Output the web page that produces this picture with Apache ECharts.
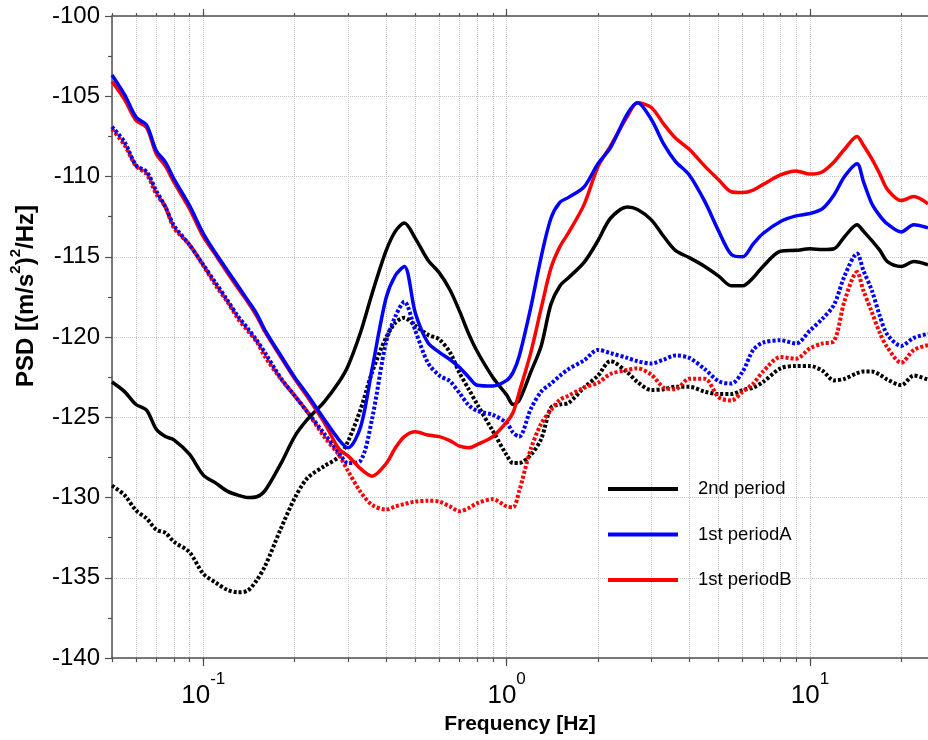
<!DOCTYPE html>
<html><head><meta charset="utf-8">
<script src="https://cdn.jsdelivr.net/npm/echarts@6/dist/echarts.min.js"></script>
<style>html,body{margin:0;padding:0;background:#fff}#c{width:928px;height:740px}</style>
</head><body><div id="c"></div>
<script>
// Frequency samples [Hz]
const freqHz = [0.05,0.055,0.06,0.065,0.07,0.075,0.08,0.09,0.1,0.11,0.12,0.13,0.14,0.15,0.16,0.18,0.2,0.22,0.25,0.28,0.3,0.33,0.36,0.4,0.43,0.46,0.5,0.55,0.6,0.65,0.7,0.75,0.8,0.9,1.0,1.05,1.1,1.2,1.3,1.4,1.5,1.6,1.8,2.0,2.2,2.5,2.7,3.0,3.3,3.6,4.0,4.5,5.0,5.5,6.0,6.5,7,8,9,10,11,12,13,14.3,15,16,17,18,20,22,24.5];

// PSD values [dB]
const secondPeriod = [-122.8,-123.4,-124.2,-124.55,-125.75,-126.2,-126.4,-127.3,-128.6,-129.1,
  -129.6,-129.85,-130.0,-129.95,-129.55,-127.9,-126.2,-125.15,-124.05,-122.8,
  -121.8,-119.7,-117.3,-114.65,-113.4,-112.9,-113.85,-115.2,-116.0,-117.05,
  -118.4,-119.8,-120.9,-122.5,-123.6,-124.2,-123.95,-122.2,-120.55,-117.95,
  -116.8,-116.3,-115.35,-114.0,-112.6,-111.9,-112.05,-112.7,-113.75,-114.6,
  -115.05,-115.6,-116.2,-116.8,-116.8,-116.3,-115.6,-114.65,-114.6,-114.5,
  -114.55,-114.5,-113.75,-113.0,-113.4,-114.0,-114.6,-115.3,-115.6,-115.3,-115.5];
const firstPeriodA = [-103.67,-104.9,-106.3,-106.8,-108.4,-109.1,-110.15,-111.8,-113.55,-114.8,
  -115.85,-116.8,-117.7,-118.55,-119.6,-121.15,-122.5,-123.56,-125.1,-126.4,
  -126.9,-125.6,-122.0,-117.6,-116.15,-115.6,-118.5,-120.35,-120.95,-121.4,
  -121.9,-122.5,-123.0,-123.05,-122.7,-122.2,-121.2,-118.2,-115.0,-112.6,
  -111.6,-111.3,-110.65,-109.2,-108.2,-106.1,-105.4,-106.45,-108.0,-109.05,
  -109.9,-111.55,-113.4,-114.85,-115.0,-114.2,-113.55,-112.8,-112.45,-112.3,
  -112.0,-111.15,-110.0,-109.2,-110.3,-111.7,-112.45,-112.95,-113.45,-113.0,-113.2];
const firstPeriodB = [-104.08,-105.2,-106.5,-106.95,-108.6,-109.35,-110.35,-112.0,-113.75,-114.9,
  -116.0,-116.95,-117.8,-118.7,-119.7,-121.25,-122.6,-123.7,-125.3,-126.97,
  -127.4,-128.2,-128.67,-127.9,-126.9,-126.2,-125.9,-126.1,-126.2,-126.45,
  -126.8,-126.9,-126.7,-126.2,-125.3,-124.7,-123.45,-121.0,-118.2,-115.7,
  -114.35,-113.5,-111.75,-109.4,-108.1,-106.25,-105.4,-105.7,-106.75,-107.6,
  -108.3,-109.35,-110.2,-110.95,-111.0,-110.85,-110.5,-109.9,-109.65,-109.85,
  -109.7,-109.1,-108.3,-107.5,-108.05,-108.9,-109.85,-110.8,-111.5,-111.25,-111.7];
const secondPeriodDotted = [-129.25,-129.85,-130.8,-131.3,-132.0,-132.2,-132.75,-133.4,-134.75,-135.3,
  -135.75,-135.9,-135.8,-135.15,-134.25,-131.95,-130.05,-128.8,-128.05,-127.45,
  -126.5,-124.5,-122.2,-120.05,-119.1,-118.8,-119.3,-119.85,-120.15,-120.95,
  -122.25,-123.25,-124.2,-125.85,-127.35,-127.85,-127.85,-127.35,-126.35,-124.4,
  -124.2,-124.1,-123.15,-122.4,-121.5,-122.2,-122.8,-123.3,-123.25,-123.1,
  -123.1,-123.4,-123.55,-123.55,-123.3,-123.15,-122.8,-121.95,-121.8,-121.8,
  -122.1,-122.7,-122.6,-122.25,-122.15,-122.15,-122.35,-122.65,-123.0,-122.4,-122.65];
const firstPeriodADotted = [-106.9,-107.85,-109.3,-109.7,-110.9,-111.9,-113.05,-114.25,-115.5,-116.65,
  -117.7,-118.7,-119.45,-120.2,-121.0,-122.55,-123.65,-124.65,-126.0,-127.2,
  -127.85,-127.7,-125.1,-120.35,-118.7,-117.8,-119.6,-121.6,-122.4,-122.75,
  -123.5,-124.25,-124.6,-124.85,-125.35,-125.95,-126.2,-124.5,-123.4,-122.9,
  -122.4,-122.0,-121.45,-120.8,-121.0,-121.3,-121.5,-121.65,-121.4,-121.15,
  -121.3,-122.0,-122.75,-122.9,-122.15,-120.8,-120.35,-120.2,-120.4,-119.6,
  -118.85,-118.0,-116.2,-114.8,-115.85,-117.1,-118.7,-119.85,-120.55,-120.05,-119.8];
const firstPeriodBDotted = [-107.05,-108.05,-109.35,-109.85,-111.1,-111.9,-113.2,-114.25,-115.55,-116.8,
  -117.8,-118.85,-119.6,-120.3,-121.25,-122.6,-123.65,-124.65,-126.2,-127.35,
  -128.35,-129.65,-130.45,-130.75,-130.55,-130.4,-130.25,-130.2,-130.25,-130.55,
  -130.85,-130.65,-130.35,-130.1,-130.55,-130.6,-129.6,-127.0,-125.4,-124.55,
  -123.9,-123.65,-123.15,-122.85,-122.3,-122.05,-121.95,-122.35,-123.15,-123.25,
  -122.6,-122.6,-123.75,-123.95,-123.4,-122.9,-122.15,-121.25,-121.35,-120.7,
  -120.4,-120.25,-117.75,-115.95,-117.1,-118.45,-119.75,-120.65,-121.6,-120.8,-120.5];

// Axis ticks
const xMin = 0.05, xMax = 24.5;
const yMin = -140, yMax = -100, yStep = 5;
const xMajorTicks = [0.1, 1, 10];
const xMajorExponent = {'0.1': '-1', '1': '0', '10': '1'};
const xMinorTicks = [0.05,0.06,0.07,0.08,0.09,0.1,0.2,0.3,0.4,0.5,0.6,0.7,0.8,0.9,1,2,3,4,5,6,7,8,9,10,20];

const legendNames = ['2nd period', '1st periodA', '1st periodB'];

const FONT = "'Liberation Sans', Arial, sans-serif";
const AX = '#505050';
const toPairs = arr => freqHz.map((f, i) => [f, arr[i]]);

const gridLine = {show: true, lineStyle: {color: '#c8c8c8', type: 'dotted', width: 1}};

function tickAxis(pos, values, len, withLine) {
  return {
    type: 'log', position: pos, min: xMin, max: xMax, logBase: 10,
    axisLine: {show: withLine, onZero: false, lineStyle: {color: AX, width: 1.5}},
    axisTick: {show: true, customValues: values, length: len, inside: false, lineStyle: {color: AX, width: 1.2}},
    axisLabel: {show: false},
    splitLine: {show: false},
    minorTick: {show: false}
  };
}

const xAxes = [];
const bottomMinor = tickAxis('bottom', xMinorTicks, 4, true);
bottomMinor.splitLine = gridLine;
xAxes.push(bottomMinor);
const bottomMajor = tickAxis('bottom', xMajorTicks, 8, false);
bottomMajor.axisLabel = {
  show: true, customValues: xMajorTicks, margin: 13,
  formatter: v => '{b|10}{s|' + (xMajorExponent[String(+v.toPrecision(6))] || '') + '}',
  rich: {
    b: {fontSize: 26, fontFamily: FONT, color: '#000', lineHeight: 38, verticalAlign: 'bottom'},
    s: {fontSize: 17, fontFamily: FONT, color: '#000', lineHeight: 17, verticalAlign: 'top'}
  }
};
bottomMajor.name = 'Frequency [Hz]';
bottomMajor.nameLocation = 'middle';
bottomMajor.nameGap = 47;
bottomMajor.nameTextStyle = {fontSize: 21, fontWeight: 'bold', fontFamily: FONT, color: '#000'};
xAxes.push(bottomMajor);
xAxes.push(tickAxis('top', xMinorTicks, 3, true));
xAxes.push(tickAxis('top', xMajorTicks, 7, false));

function line(name, data, color, dotted) {
  return {
    name: name, type: 'line', xAxisIndex: 0, yAxisIndex: 0,
    data: toPairs(data), symbol: 'none', smooth: 0.3,
    lineStyle: dotted ? {color: color, width: 4, type: [3, 2], cap: 'butt'} : {color: color, width: 3.5},
    itemStyle: {color: color},
    emphasis: {disabled: true}, silent: true
  };
}

const chart = echarts.init(document.getElementById('c'), null, {renderer: 'canvas'});
chart.setOption({
  animation: false,
  backgroundColor: '#fff',
  grid: {left: 110, right: 0, top: 16, bottom: 77, containLabel: false},
  legend: {
    data: legendNames, orient: 'vertical', left: 608, top: 476, padding: 0,
    icon: 'rect', itemWidth: 70, itemHeight: 4, itemGap: 19.5,
    textStyle: {fontSize: 18.5, lineHeight: 20, fontFamily: FONT, color: '#000', padding: [6, 0, 0, 15]},
    selectedMode: false
  },
  xAxis: xAxes,
  yAxis: {
    type: 'value', min: yMin, max: yMax, interval: yStep,
    axisLine: {show: true, lineStyle: {color: AX, width: 1.5}},
    axisTick: {show: true, length: 7, lineStyle: {color: AX, width: 1.2}},
    minorTick: {show: true, splitNumber: 2, length: 4, lineStyle: {color: AX, width: 1.2}},
    axisLabel: {fontSize: 24, fontFamily: FONT, color: '#000', margin: 12},
    splitLine: gridLine,
    name: '{t|PSD [(m/s}{s|2}{t|)}{s|2}{t|/Hz]}',
    nameLocation: 'middle', nameGap: 74,
    nameTextStyle: {
      padding: [0, 0, 0, 82],
      rich: {
        t: {fontSize: 24, fontWeight: 'bold', fontFamily: FONT, color: '#000', lineHeight: 30, verticalAlign: 'bottom'},
        s: {fontSize: 15, fontWeight: 'bold', fontFamily: FONT, color: '#000', lineHeight: 15, verticalAlign: 'top'}
      }
    }
  },
  series: [
    line('2nd period dotted', secondPeriodDotted, '#000000', true),
    line('1st periodB dotted', firstPeriodBDotted, '#ff0000', true),
    line('1st periodA dotted', firstPeriodADotted, '#0000ff', true),
    line('2nd period', secondPeriod, '#000000', false),
    line('1st periodB', firstPeriodB, '#ff0000', false),
    line('1st periodA', firstPeriodA, '#0000ff', false)
  ]
});
</script></body></html>
